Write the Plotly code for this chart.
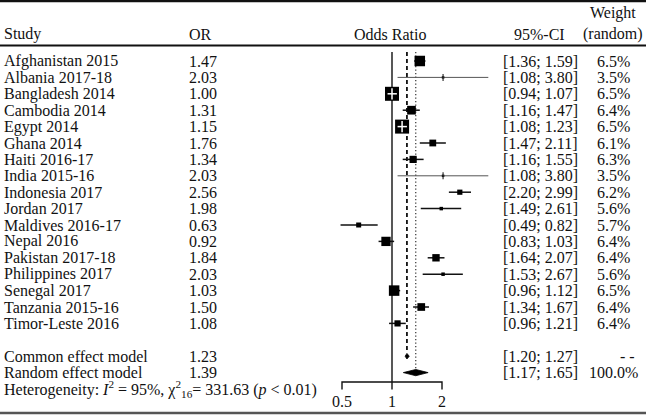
import plotly.graph_objects as go
import numpy as np

# ---------------- data ----------------
studies = ["Afghanistan 2015", "Albania 2017-18", "Bangladesh 2014", "Cambodia 2014",
           "Egypt 2014", "Ghana 2014", "Haiti 2016-17", "India 2015-16", "Indonesia 2017",
           "Jordan 2017", "Maldives 2016-17", "Nepal 2016", "Pakistan 2017-18",
           "Philippines 2017", "Senegal 2017", "Tanzania 2015-16", "Timor-Leste 2016"]
or_vals = [1.47, 2.03, 1.00, 1.31, 1.15, 1.76, 1.34, 2.03, 2.56, 1.98, 0.63, 0.92, 1.84,
           2.03, 1.03, 1.50, 1.08]
ci_low = [1.36, 1.08, 0.94, 1.16, 1.08, 1.47, 1.16, 1.08, 2.20, 1.49, 0.49, 0.83, 1.64,
          1.53, 0.96, 1.34, 0.96]
ci_high = [1.59, 3.80, 1.07, 1.47, 1.23, 2.11, 1.55, 3.80, 2.99, 2.61, 0.82, 1.03, 2.07,
           2.67, 1.12, 1.67, 1.21]
weight_random = [6.5, 3.5, 6.5, 6.4, 6.5, 6.1, 6.3, 3.5, 6.2, 5.6, 5.7, 6.4, 6.4, 5.6,
                 6.5, 6.4, 6.4]

model_names = ["Common effect model", "Random effect model"]
model_or = [1.23, 1.39]
model_low = [1.20, 1.17]
model_high = [1.27, 1.65]
model_weight = ["- -", "100.0%"]

het_i2 = 95
het_chi2 = 331.63
het_df = 16

tick_vals = [0.5, 1, 2]
tick_text = ["0.5", "1", "2"]

# ---------------- styles ----------------
box_px = [10.5, 2.5, 14, 8.7, 14, 6.8, 7.2, 2.5, 5.2, 3.5, 5, 9.3, 7.4, 3.5, 10.5, 7.7, 6.2]
W, H = 646, 415
FONT = "Liberation Serif"
FS = 16
TXT = "#111111"
ROW0_PX, ROW_PX = 61, 16.4          # pixel y of first study row, row spacing
X1_PX, DOUBLE_PX = 392, 50          # pixel x of OR=1, pixels per doubling

def row_of(px):
    return (px - ROW0_PX) / ROW_PX

def xpaper(px):
    return px / W

def ypaper(px):
    return 1 - px / H

n = len(studies)
rows = list(range(n))
model_rows = [n + 1, n + 2]
het_row = n + 3

fig = go.Figure()

# reference lines
top_row = row_of(52)
axis_row = row_of(382)
tick_end = row_of(389.5)
fig.add_trace(go.Scatter(x=[1, 1], y=[top_row, tick_end], mode="lines",
                         line=dict(color="#111", width=1.4), hoverinfo="skip"))
fig.add_trace(go.Scatter(x=[model_or[0]] * 2, y=[top_row, model_rows[0] - 0.27], mode="lines",
                         line=dict(color="#111", width=1.8, dash="4px,3px"), hoverinfo="skip"))
fig.add_trace(go.Scatter(x=[model_or[1]] * 2, y=[top_row, model_rows[1] - 0.22], mode="lines",
                         line=dict(color="#333", width=1.2, dash="1.3px,2.2px"), hoverinfo="skip"))

# CI lines
for i in range(n):
    thin = (np.log2(ci_high[i]) - np.log2(ci_low[i])) > 1.5
    fig.add_trace(go.Scatter(x=[ci_low[i], ci_high[i]], y=[i, i], mode="lines",
                             line=dict(color="#555" if thin else "#111", width=1.0 if thin else 1.5),
                             hoverinfo="skip"))

# squares
fig.add_trace(go.Scatter(x=or_vals, y=rows, mode="markers",
                         marker=dict(symbol="square", size=box_px, color="#000", opacity=1,
                                     line=dict(width=0)), hoverinfo="skip"))
# tiny vertical ticks for the tiny boxes
tiny = [i for i in range(n) if box_px[i] < 3]
fig.add_trace(go.Scatter(x=[or_vals[i] for i in tiny], y=tiny, mode="markers",
                         marker=dict(symbol="line-ns", size=5, opacity=1,
                                     line=dict(color="#333", width=1.2)),
                         hoverinfo="skip"))

# white CI inside boxes that are wider than the CI
for i in range(n):
    ci_px = (np.log2(ci_high[i]) - np.log2(ci_low[i])) * DOUBLE_PX
    if ci_px < box_px[i]:
        fig.add_trace(go.Scatter(x=[ci_low[i], ci_high[i]], y=[i, i], mode="lines",
                                 line=dict(color="white", width=1.5), hoverinfo="skip"))
        fig.add_trace(go.Scatter(x=[or_vals[i]], y=[i], mode="markers",
                                 marker=dict(symbol="line-ns", size=8, opacity=1,
                                             line=dict(color="white", width=1.5)),
                                 hoverinfo="skip"))

# diamonds
half = [0.17, 0.19]
for k in range(2):
    r = model_rows[k]
    fig.add_trace(go.Scatter(x=[model_low[k], model_or[k], model_high[k], model_or[k], model_low[k]],
                             y=[r, r - half[k], r, r + half[k], r], mode="lines",
                             fill="toself", fillcolor="#000", line=dict(color="#000", width=0.8),
                             hoverinfo="skip"))

# custom x axis
fig.add_trace(go.Scatter(x=[tick_vals[0], tick_vals[0], tick_vals[-1], tick_vals[-1]],
                         y=[tick_end, axis_row, axis_row, tick_end], mode="lines",
                         line=dict(color="#111", width=1.4), hoverinfo="skip"))
fig.add_trace(go.Scatter(x=tick_vals, y=[row_of(403)] * len(tick_vals), mode="text",
                         text=tick_text, textfont=dict(family=FONT, size=FS, color=TXT),
                         hoverinfo="skip"))

# ---------------- text columns ----------------
ann = []
def add(text, xpx, row, anchor):
    ann.append(dict(text=text, x=xpaper(xpx), xref="paper", y=row, yref="y",
                    xanchor=anchor, yanchor="middle", showarrow=False,
                    font=dict(family=FONT, size=FS, color=TXT)))

hdr = row_of(34)
add("Weight", 613, row_of(13), "center")
add("Study", 2, hdr, "left")
add("OR", 187, hdr, "left")
add("Odds Ratio", 390, hdr, "center")
add("95%-CI", 539, hdr, "center")
add("(random)", 613, hdr, "center")

for i in range(n):
    add(studies[i], 2, i, "left")
    add(f"{or_vals[i]:.2f}", 187, i, "left")
    add(f"[{ci_low[i]:.2f}; {ci_high[i]:.2f}]", 540, i, "center")
    add(f"{weight_random[i]:.1f}%", 613, i, "center")

for k in range(2):
    r = model_rows[k]
    add(model_names[k], 2, r, "left")
    add(f"{model_or[k]:.2f}", 187, r, "left")
    add(f"[{model_low[k]:.2f}; {model_high[k]:.2f}]", 540, r, "center")
    if k == 0:
        add(model_weight[k], 637, r, "right")
    else:
        add(model_weight[k], 613, r, "center")

add(f"Heterogeneity: <i>I</i><sup>2</sup> = {het_i2}%, χ<sup>2</sup><sub>{het_df}</sub>= "
    f"{het_chi2:.2f} (<i>p</i> &lt; 0.01)", 2, het_row, "left")

# separators
shapes = [
    dict(type="line", xref="paper", yref="paper", x0=0, x1=1, y0=ypaper(1.2), y1=ypaper(1.2),
         line=dict(color="#111", width=2.2)),
    dict(type="line", xref="paper", yref="paper", x0=0, x1=1, y0=ypaper(45.5), y1=ypaper(45.5),
         line=dict(color="#111", width=2)),
    dict(type="line", xref="paper", yref="paper", x0=0, x1=1, y0=ypaper(413), y1=ypaper(413),
         line=dict(color="#555", width=2.5)),
]

x_lo = np.log10(2 ** ((0 - X1_PX) / DOUBLE_PX))
x_hi = np.log10(2 ** ((W - X1_PX) / DOUBLE_PX))

fig.update_layout(
    width=W, height=H, margin=dict(l=0, r=0, t=0, b=0),
    paper_bgcolor="white", plot_bgcolor="white", showlegend=False,
    xaxis=dict(type="log", range=[x_lo, x_hi], visible=False, fixedrange=True),
    yaxis=dict(range=[row_of(H), row_of(0)], visible=False, fixedrange=True),
    annotations=ann, shapes=shapes,
)

fig.write_html("out.html", config={"displayModeBar": False},
               post_script="document.body.style.margin='0px';document.body.style.padding='0px';")
